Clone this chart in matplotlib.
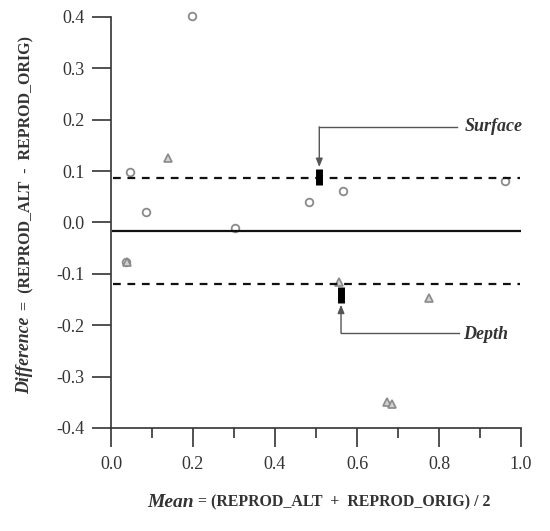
import numpy as np
import matplotlib
matplotlib.use("Agg")
import matplotlib.pyplot as plt

# circles: (mean, difference)
circ_x = [0.197, 0.046, 0.085, 0.303, 0.482, 0.567, 0.962, 0.036]
circ_y = [0.402, 0.098, 0.021, -0.010, 0.039, 0.061, 0.080, -0.077]
# triangles
tri_x = [0.139, 0.040, 0.557, 0.776, 0.672, 0.685]
tri_y = [0.125, -0.076, -0.115, -0.147, -0.349, -0.353]

bias = -0.017
upper_loa = 0.087
lower_loa = -0.119

# confidence bars for the two limits (x, low, high)
surf_bar = (0.508, 0.073, 0.104)
depth_bar = (0.561, -0.156, -0.125)

xticks = [0.0, 0.2, 0.4, 0.6, 0.8, 1.0]
yticks = [0.4, 0.3, 0.2, 0.1, 0.0, -0.1, -0.2, -0.3, -0.4]

plt.rcParams['font.family'] = ['Liberation Serif', 'DejaVu Serif']
ink = '#333333'
gray = '#8a8a8a'

fig = plt.figure(figsize=(5.5, 5.31), dpi=100)
ax = fig.add_axes([0.2018, 0.194, 0.7455, 0.774])

ax.plot(circ_x, circ_y, 'o', ms=5.5, mfc='none', mec=gray, mew=1.3, clip_on=False)
ax.plot(tri_x, tri_y, '^', ms=5.5, mfc='#d0d0d0', mec=gray, mew=1.2, clip_on=False)

ax.plot([0.005, 0.998], [bias, bias], color='#111111', lw=1.6)
ax.plot([0.005, 0.998], [upper_loa, upper_loa], color='#111111', lw=1.6, ls=(0, (3.5, 3)))
ax.plot([0.005, 0.998], [lower_loa, lower_loa], color='#111111', lw=1.6, ls=(0, (3.5, 3)))

ax.vlines([surf_bar[0], depth_bar[0]], [surf_bar[1], depth_bar[1]],
          [surf_bar[2], depth_bar[2]], color='black', lw=5)

# callouts
arr = dict(arrowstyle='-|>,head_length=0.5,head_width=0.2', color='#555555',
           lw=1.0, shrinkA=0, shrinkB=0)
ax.plot([0.845, surf_bar[0]], [0.186, 0.186], color='#555555', lw=1.0)
ax.annotate('', xy=(surf_bar[0], surf_bar[2] + 0.004),
            xytext=(surf_bar[0], 0.186), arrowprops=arr)
ax.text(0.862, 0.186, 'Surface', ha='left', va='center', fontsize=13,
        fontweight='bold', fontstyle='italic', color=ink)

ax.plot([0.849, depth_bar[0]], [-0.215, -0.215], color='#555555', lw=1.0)
ax.annotate('', xy=(depth_bar[0], depth_bar[1] - 0.004),
            xytext=(depth_bar[0], -0.215), arrowprops=arr)
ax.text(0.860, -0.219, 'Depth', ha='left', va='center', fontsize=13,
        fontweight='bold', fontstyle='italic', color=ink)

ax.set_xlim(0, 1)
ax.set_ylim(-0.4, 0.4)
ax.set_xticks(xticks)
ax.set_xticklabels(['%.1f' % v for v in xticks])
ax.set_xticks(np.arange(0.1, 1.0, 0.2), minor=True)
ax.set_yticks(yticks)
ax.set_yticklabels(['%.1f' % v for v in yticks])

for s in ['top', 'right']:
    ax.spines[s].set_visible(False)
for s in ['left', 'bottom']:
    ax.spines[s].set_color(ink)
    ax.spines[s].set_linewidth(1.2)
ax.tick_params(which='major', direction='out', length=14, width=1.2,
               color=ink, labelcolor=ink, labelsize=13, pad=5)
ax.tick_params(axis='x', which='major', pad=6)
ax.tick_params(which='minor', direction='out', length=7, width=1.2, color=ink)

# x label, two pieces
t1 = fig.text(0.268, 0.046, 'Mean', ha='left', va='baseline', fontsize=14,
              fontweight='bold', fontstyle='italic', color=ink)
fig.canvas.draw()
r = fig.canvas.get_renderer()
bb = t1.get_window_extent(r).transformed(fig.transFigure.inverted())
fig.text(bb.x1 + 0.008, 0.046, '= (REPROD_ALT  +  REPROD_ORIG) / 2', ha='left',
         va='baseline', fontsize=11.4, fontweight='bold', color=ink)

# y label, two pieces
t2 = fig.text(0.030, 0.258, 'Difference', ha='left', va='bottom', rotation=90,
              fontsize=12.8, fontweight='bold', fontstyle='italic', color=ink)
fig.canvas.draw()
bb = t2.get_window_extent(r).transformed(fig.transFigure.inverted())
fig.text(bb.x0 + 0.004, bb.y1 + 0.012, '=  (REPROD_ALT  -  REPROD_ORIG)',
         ha='left', va='bottom', rotation=90, fontsize=11.5, fontweight='bold',
         color=ink)

fig.savefig('out.png', dpi=100)
